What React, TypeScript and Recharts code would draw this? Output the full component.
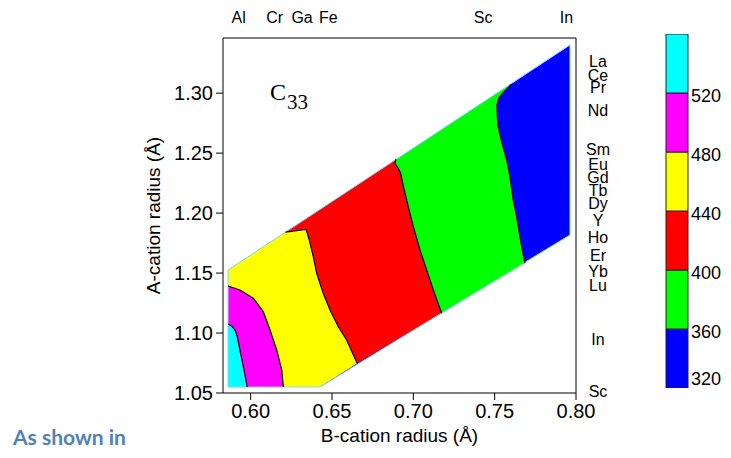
import React from 'react';
import { ComposedChart, Area, Line, XAxis, YAxis, ReferenceDot, BarChart, Bar } from 'recharts';

// contour levels of C33 and the colour of each band, low -> high
const levels = [320, 360, 400, 440, 480, 520, 560];
const bandColors = ['#0000ff', '#00ff00', '#ff0000', '#ffff00', '#ff00ff', '#00ffff'];

const xTicks = [0.6, 0.65, 0.7, 0.75, 0.8];
const yTicks = [1.05, 1.1, 1.15, 1.2, 1.25, 1.3];

// B-site cations marked along the top
const bCations = ['Al', 'Cr', 'Ga', 'Fe', 'Sc', 'In'];
const bRadii = [0.5926, 0.6148, 0.6316, 0.6477, 0.7429, 0.7941];

// A-site cations marked along the right
const aCations = ['La', 'Ce', 'Pr', 'Nd', 'Sm', 'Eu', 'Gd', 'Tb', 'Dy', 'Y', 'Ho', 'Er', 'Yb', 'Lu', 'In', 'Sc'];
const aRadii = [1.3261, 1.3152, 1.3044, 1.286, 1.2535, 1.2402, 1.2301, 1.2193, 1.2085, 1.1935, 1.1801, 1.1651, 1.1518, 1.1401, 1.095, 1.0517];

// edges of the computed region [B radius, A radius]
const leftEdge: [number, number][] = [[0.5861, 1.055], [0.5861, 1.1526], [0.7963, 1.3402]];
const lowerEdge: [number, number][] = [[0.5861, 1.055], [0.6426, 1.055], [0.7963, 1.1818], [0.7963, 1.3402]];

// contour lines, bottom to top
const c520: [number, number][] = [[0.5979, 1.055], [0.5955, 1.0719], [0.5934, 1.0859], [0.5918, 1.097], [0.5904, 1.1025], [0.5883, 1.1059], [0.5861, 1.1075]];
const c480: [number, number][] = [[0.6201, 1.055], [0.6191, 1.0692], [0.616, 1.0859], [0.6119, 1.1025], [0.6078, 1.1178], [0.6016, 1.129], [0.5934, 1.1359], [0.5861, 1.1392]];
const c440: [number, number][] = [[0.6655, 1.0748], [0.659, 1.0942], [0.6539, 1.1053], [0.6488, 1.1192], [0.6446, 1.1332], [0.6406, 1.1498], [0.6385, 1.1637], [0.6375, 1.1693], [0.636, 1.1776], [0.6348, 1.1832], [0.634, 1.1865], [0.6215, 1.1842]];
const c400: [number, number][] = [[0.7174, 1.1165], [0.7123, 1.1359], [0.7082, 1.1526], [0.7041, 1.1693], [0.7, 1.1887], [0.6969, 1.2054], [0.6939, 1.2221], [0.6922, 1.2332], [0.6907, 1.2374], [0.6887, 1.2416], [0.6893, 1.2449]];
const c360: [number, number][] = [[0.7686, 1.1582], [0.7655, 1.1804], [0.7635, 1.197], [0.7614, 1.211], [0.7594, 1.2304], [0.7574, 1.2443], [0.7551, 1.2554], [0.7533, 1.2652], [0.752, 1.2735], [0.7516, 1.2819], [0.7514, 1.2902], [0.7526, 1.296], [0.7551, 1.3002], [0.7604, 1.3075]];

const xDomain: [number, number] = [0.583, 0.8];
const yDomain: [number, number] = [1.05, 1.346];

const rows = (pts: [number, number][]) => pts.map(([x, y]) => ({ x, y }));

// painted back to front: each band filled from the left axis up to its right-hand boundary
const bands = [
   { fill: bandColors[0], pts: lowerEdge },
   { fill: bandColors[1], pts: [c400[0], ...c360] },
   { fill: bandColors[2], pts: [c440[0], ...c400] },
   { fill: bandColors[3], pts: [lowerEdge[1], ...c440] },
   { fill: bandColors[4], pts: c480 },
   { fill: bandColors[5], pts: c520 },
];
const contours = [c520, c480, c440, c400, c360];

const colorbarRow: Record<string, number | string> = { name: 'cb', base: levels[0] };
bandColors.forEach((_, i) => {
   colorbarRow['b' + i] = levels[i + 1] - levels[i];
});

const ColorbarTick = ({ x, y, payload }: any) => (
   <text x={x} y={y + (payload.value === levels[0] ? -9 : 3)} dy="0.35em" textAnchor="start" fontSize={18} fill="#000">
      {payload.value}
   </text>
);

const axisStroke = { stroke: '#000' };

export default function App() {
   return (
      <div
         style={{
            position: 'relative',
            margin: -8,
            width: 731,
            height: 458,
            overflow: 'hidden',
            fontFamily: '"Liberation Sans", Arial, sans-serif',
         }}
      >
         <div style={{ position: 'absolute', left: 0, top: 0 }}>
            <ComposedChart
               layout="vertical"
               width={650}
               height={458}
               margin={{ top: 8, right: 34, bottom: 15, left: 143 }}
            >
               {bands.map((b, i) => (
                  <Area
                     key={'band' + i}
                     data={rows(b.pts)}
                     dataKey="x"
                     type="linear"
                     fill={b.fill}
                     fillOpacity={1}
                     stroke="none"
                     isAnimationActive={false}
                  />
               ))}
               <Area
                  data={rows(leftEdge)}
                  dataKey="x"
                  type="linear"
                  fill="#ffffff"
                  fillOpacity={1}
                  stroke="#7fd4f7"
                  strokeWidth={1}
                  isAnimationActive={false}
               />
               <Line
                  data={rows(lowerEdge)}
                  dataKey="x"
                  type="linear"
                  stroke="#7fd4f7"
                  strokeWidth={1}
                  dot={false}
                  isAnimationActive={false}
               />
               {contours.map((c, i) => (
                  <Line
                     key={'c' + i}
                     data={rows(c)}
                     dataKey="x"
                     type="linear"
                     stroke="#000"
                     strokeWidth={1.2}
                     dot={false}
                     isAnimationActive={false}
                  />
               ))}
               <XAxis
                  type="number"
                  domain={xDomain}
                  allowDataOverflow
                  ticks={xTicks}
                  interval={0}
                  tickFormatter={(v: number) => v.toFixed(2)}
                  tick={{ fontSize: 20, fill: '#000' }}
                  tickSize={7}
                  tickMargin={4}
                  axisLine={axisStroke}
                  tickLine={axisStroke}
                  height={50}
                  label={{ value: 'B-cation radius (Å)', position: 'bottom', offset: -14, fontSize: 19, fill: '#000' }}
               />
               <XAxis
                  xAxisId="top"
                  orientation="top"
                  type="number"
                  domain={xDomain}
                  allowDataOverflow
                  ticks={xTicks}
                  interval={0}
                  tick={false}
                  tickSize={6}
                  axisLine={axisStroke}
                  tickLine={axisStroke}
                  height={30}
               />
               <YAxis
                  type="number"
                  dataKey="y"
                  reversed
                  domain={yDomain}
                  allowDataOverflow
                  ticks={yTicks}
                  interval={0}
                  tickFormatter={(v: number) => v.toFixed(2)}
                  tick={{ fontSize: 20, fill: '#000' }}
                  tickSize={7}
                  tickMargin={3}
                  axisLine={axisStroke}
                  tickLine={axisStroke}
                  width={80}
                  label={{
                     value: 'A-cation radius (Å)',
                     angle: -90,
                     position: 'insideLeft',
                     offset: 10,
                     fontSize: 19,
                     fill: '#000',
                     style: { textAnchor: 'middle' },
                  }}
               />
               <YAxis
                  yAxisId="right"
                  orientation="right"
                  type="number"
                  reversed
                  domain={yDomain}
                  allowDataOverflow
                  ticks={yTicks}
                  interval={0}
                  tick={false}
                  tickSize={7}
                  axisLine={axisStroke}
                  tickLine={axisStroke}
                  width={40}
               />
               {bCations.map((name, i) => (
                  <ReferenceDot
                     key={'b' + name}
                     x={bRadii[i]}
                     y={yDomain[1]}
                     r={0}
                     ifOverflow="visible"
                     label={(p: any) => (
                        <text x={p.viewBox.x} y={p.viewBox.y - 15} textAnchor="middle" fontSize={16} fill="#000">
                           {name}
                        </text>
                     )}
                  />
               ))}
               {aCations.map((name, i) => (
                  <ReferenceDot
                     key={'a' + i}
                     x={xDomain[1]}
                     y={aRadii[i]}
                     r={0}
                     ifOverflow="visible"
                     label={(p: any) => (
                        <text x={p.viewBox.x + 22} y={p.viewBox.y} dy="0.35em" textAnchor="middle" fontSize={16} fill="#000">
                           {name}
                        </text>
                     )}
                  />
               ))}
            </ComposedChart>
         </div>

         <div style={{ position: 'absolute', left: 640, top: 20 }}>
            <BarChart
               width={90}
               height={390}
               data={[colorbarRow]}
               margin={{ top: 14, right: 2, bottom: 22, left: 26 }}
               barCategoryGap={0}
            >
               <XAxis dataKey="name" hide />
               <YAxis
                  orientation="right"
                  type="number"
                  domain={[levels[0], levels[levels.length - 1]]}
                  allowDataOverflow
                  ticks={levels.slice(0, -1)}
                  interval={0}
                  tick={(p: any) => <ColorbarTick {...p} />}
                  tickLine={false}
                  axisLine={false}
                  tickSize={0}
                  tickMargin={3}
                  width={40}
               />
               <Bar dataKey="base" stackId="cb" fill="none" stroke="none" isAnimationActive={false} />
               {bandColors.map((c, i) => (
                  <Bar
                     key={'cb' + i}
                     dataKey={'b' + i}
                     stackId="cb"
                     fill={c}
                     stroke="#222"
                     strokeWidth={1}
                     isAnimationActive={false}
                  />
               ))}
            </BarChart>
         </div>

         <svg width={731} height={458} style={{ position: 'absolute', left: 0, top: 0, pointerEvents: 'none' }}>
            <text x={270} y={100} fontFamily='"Liberation Serif", "Times New Roman", serif' fontSize={24} fill="#000">
               C
            </text>
            <text x={287} y={109} fontFamily='"Liberation Serif", "Times New Roman", serif' fontSize={21} fill="#000">
               33
            </text>
            <text x={13} y={445} fontFamily="Lato, sans-serif" fontWeight="bold" fontSize={21} fill="#4f81bd">
               As shown in
            </text>
         </svg>
      </div>
   );
}
